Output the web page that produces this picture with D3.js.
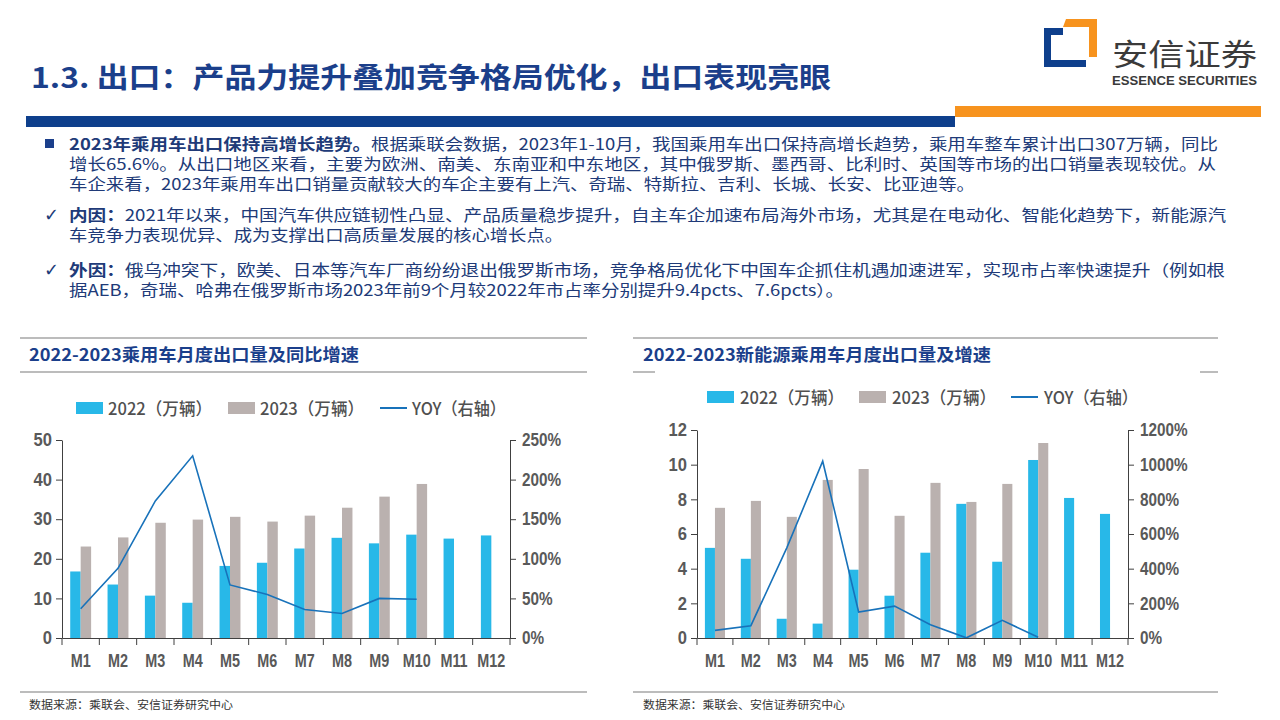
<!DOCTYPE html>
<html><head><meta charset="utf-8">
<script src="https://cdn.jsdelivr.net/npm/d3@7"></script>
<style>
html,body{margin:0;padding:0;background:#fff;}
svg{display:block;}
</style></head>
<body>
<svg id="c" width="1280" height="720"></svg>
<script>
// ---------- data ----------
const months = ["M1","M2","M3","M4","M5","M6","M7","M8","M9","M10","M11","M12"];
const pv2022 = [16.8,13.5,10.7,8.9,18.2,19.0,22.6,25.3,23.9,26.1,25.1,25.9];
const pv2023 = [23.1,25.4,29.1,29.9,30.6,29.4,30.9,32.9,35.7,38.9];
const pvYoy  = [0.37,0.88,1.73,2.30,0.67,0.55,0.36,0.31,0.50,0.49];
const nev2022 = [5.2,4.57,1.11,0.83,3.94,2.44,4.92,7.74,4.40,10.27,8.08,7.16];
const nev2023 = [7.51,7.91,6.99,9.12,9.75,7.05,8.95,7.85,8.89,11.25];
const nevYoy  = [0.44,0.71,5.2,10.2,1.50,1.84,0.77,0.01,1.02,0.04];
const pvLeftTicks = [0,10,20,30,40,50];
const pvRightTicks = [0,0.5,1,1.5,2,2.5];
const nevLeftTicks = [0,2,4,6,8,10,12];
const nevRightTicks = [0,2,4,6,8,10,12];
const legendLabels = ["2022（万辆）","2023（万辆）","YOY（右轴）"];
const chartTitles = ["2022-2023乘用车月度出口量及同比增速","2022-2023新能源乘用车月度出口量及增速"];
const sourceText = "数据来源：乘联会、安信证券研究中心";
const pageTitle = "1.3. 出口：产品力提升叠加竞争格局优化，出口表现亮眼";

const C_BLUE = "#28B8E8", C_GRAY = "#BAB1AF", C_LINE = "#1872BA";
const NAVY = "#1B3F8B", TXT = "#203A78";
const NUMFONT = "'Liberation Sans','Arial',sans-serif";
const CJK = "'Noto Sans CJK SC','Noto Sans',sans-serif";

const svg = d3.select("#c");

// ---------- header ----------
svg.append("text").attr("x",31).attr("y",88).attr("font-family",CJK).attr("font-weight",700)
  .attr("font-size",28).attr("fill",NAVY).attr("textLength",800).attr("lengthAdjust","spacingAndGlyphs").text(pageTitle);
svg.append("rect").attr("x",26).attr("y",116).attr("width",929).attr("height",11).attr("fill","#0E3F8C");
svg.append("rect").attr("x",955).attr("y",106).attr("width",306).attr("height",11).attr("fill","#F7931E");

// logo
const logo = svg.append("g");
logo.append("path").attr("d","M1044,28 L1063,28 L1063,35 L1051,35 L1051,60 L1086,60 L1086,67 L1044,67 Z").attr("fill","#0E3F8C");
logo.append("path").attr("d","M1066,19 L1097,19 L1097,57 L1089,57 L1089,27 L1063,27 Z").attr("fill","#F7931E");
logo.append("text").attr("x",1112).attr("y",65).attr("font-family",CJK).attr("font-size",30).attr("fill","#3a3a3a")
  .attr("textLength",145).attr("lengthAdjust","spacingAndGlyphs").text("安信证券");
logo.append("text").attr("x",1112).attr("y",85).attr("font-family",NUMFONT).attr("font-weight",700).attr("font-size",13).attr("fill","#3a3a3a")
  .attr("textLength",145).attr("lengthAdjust","spacingAndGlyphs").text("ESSENCE SECURITIES");

// ---------- body text ----------
const lines = [
  {y:150, end:1218, marker:"sq", parts:[["2023年乘用车出口保持高增长趋势。",700],["根据乘联会数据，2023年1-10月，我国乘用车出口保持高增长趋势，乘用车整车累计出口307万辆，同比",400]]},
  {y:170, end:1216, parts:[["增长65.6%。从出口地区来看，主要为欧洲、南美、东南亚和中东地区，其中俄罗斯、墨西哥、比利时、英国等市场的出口销量表现较优。从",400]]},
  {y:190, end:975, parts:[["车企来看，2023年乘用车出口销量贡献较大的车企主要有上汽、奇瑞、特斯拉、吉利、长城、长安、比亚迪等。",400]]},
  {y:221, end:1226, marker:"ck", parts:[["内因：",700],["2021年以来，中国汽车供应链韧性凸显、产品质量稳步提升，自主车企加速布局海外市场，尤其是在电动化、智能化趋势下，新能源汽",400]]},
  {y:241, end:563, parts:[["车竞争力表现优异、成为支撑出口高质量发展的核心增长点。",400]]},
  {y:276, end:1225, marker:"ck", parts:[["外因：",700],["俄乌冲突下，欧美、日本等汽车厂商纷纷退出俄罗斯市场，竞争格局优化下中国车企抓住机遇加速进军，实现市占率快速提升（例如根",400]]},
  {y:296, end:844, parts:[["据AEB，奇瑞、哈弗在俄罗斯市场2023年前9个月较2022年市占率分别提升9.4pcts、7.6pcts）。",400]]}
];
lines.forEach(l=>{
  if(l.marker==="sq") svg.append("rect").attr("x",45).attr("y",139).attr("width",9).attr("height",9).attr("fill","#1B3F8B");
  if(l.marker==="ck") svg.append("text").attr("x",44).attr("y",l.y).attr("font-family","'DejaVu Sans',sans-serif").attr("font-weight",700).attr("font-size",18).attr("fill",TXT).text("✓");
  const t = svg.append("text").attr("x",69).attr("y",l.y).attr("font-family",CJK).attr("font-size",15.5).attr("fill",TXT)
    .attr("textLength",l.end-69).attr("lengthAdjust","spacingAndGlyphs");
  l.parts.forEach(p=>t.append("tspan").attr("font-weight",p[1]).text(p[0]));
});

// ---------- charts ----------
function narrow(sel, f){
  sel.each(function(){ const w=this.getComputedTextLength(); d3.select(this).attr("textLength",w*f).attr("lengthAdjust","spacingAndGlyphs"); });
}
function drawChart(cfg){
  const g = svg.append("g");
  g.append("line").attr("x1",cfg.fx0).attr("x2",cfg.fx1).attr("y1",338).attr("y2",338).attr("stroke","#A6A6A6").attr("stroke-width",1.5);
  cfg.subLines.forEach(s=>g.append("line").attr("x1",s[0]).attr("x2",s[1]).attr("y1",372).attr("y2",372).attr("stroke","#A6A6A6").attr("stroke-width",1.5));
  g.append("line").attr("x1",cfg.fx0).attr("x2",cfg.fx1).attr("y1",692).attr("y2",692).attr("stroke","#A6A6A6").attr("stroke-width",1.5);
  g.append("text").attr("x",cfg.tx).attr("y",361).attr("font-family",CJK).attr("font-weight",700).attr("font-size",17)
    .attr("fill",NAVY).attr("textLength",cfg.tw).attr("lengthAdjust","spacingAndGlyphs").text(cfg.title);
  g.append("text").attr("x",cfg.tx).attr("y",709).attr("font-family",CJK).attr("font-size",11)
    .attr("fill","#333").attr("textLength",cfg.sw).attr("lengthAdjust","spacingAndGlyphs").text(sourceText);

  // legend
  const L = cfg.legend, ly = cfg.ly;
  g.append("rect").attr("x",L[0]).attr("y",ly-6).attr("width",27).attr("height",12).attr("fill",C_BLUE);
  g.append("rect").attr("x",L[2]).attr("y",ly-6).attr("width",27).attr("height",12).attr("fill",C_GRAY);
  g.append("line").attr("x1",L[4]).attr("x2",L[4]+27).attr("y1",ly).attr("y2",ly).attr("stroke",C_LINE).attr("stroke-width",2);
  [[L[1],104,0],[L[3],104,1],[L[5],94,2]].forEach(d=>{
    g.append("text").attr("x",d[0]).attr("y",ly+6.5).attr("font-family",CJK).attr("font-weight",500).attr("font-size",17).attr("fill","#505050")
      .attr("textLength",d[1]).attr("lengthAdjust","spacingAndGlyphs").text(legendLabels[d[2]]);
  });

  const x = d3.scaleBand().domain(months).range([cfg.x0,cfg.x1]).padding(0);
  const y = d3.scaleLinear().domain([0,cfg.ymax]).range([638,cfg.ytop]);
  const yr = d3.scaleLinear().domain([0,cfg.yrmax]).range([638,cfg.ytop]);
  const bw = x.bandwidth()*0.28;
  const cx = d => x(d)+x.bandwidth()/2;

  g.append("g").selectAll("rect").data(cfg.a).join("rect")
    .attr("x",(d,i)=>cx(months[i])-bw).attr("width",bw)
    .attr("y",d=>y(d)).attr("height",d=>638-y(d)).attr("fill",C_BLUE);
  g.append("g").selectAll("rect").data(cfg.b).join("rect")
    .attr("x",(d,i)=>cx(months[i])).attr("width",bw)
    .attr("y",d=>y(d)).attr("height",d=>638-y(d)).attr("fill",C_GRAY);

  const line = d3.line().x((d,i)=>cx(months[i])).y(d=>yr(d));
  g.append("path").datum(cfg.yoy).attr("d",line).attr("fill","none").attr("stroke",C_LINE).attr("stroke-width",1.6);

  const axStyle = sel=>{
    sel.selectAll("path,line").attr("stroke","#404040").attr("stroke-width",1);
    sel.selectAll("text").attr("font-family",NUMFONT).attr("font-weight",700).attr("font-size",18).attr("fill","#595959");
  };
  const la = g.append("g").attr("transform",`translate(${cfg.x0},0)`)
    .call(d3.axisLeft(y).tickValues(cfg.lt).tickSize(6).tickSizeOuter(0).tickPadding(4).tickFormat(d3.format("d"))).call(axStyle);
  narrow(la.selectAll("text"),0.92);
  const ra = g.append("g").attr("transform",`translate(${cfg.x1},0)`)
    .call(d3.axisRight(yr).tickValues(cfg.rt).tickSize(6).tickSizeOuter(0).tickPadding(6).tickFormat(d3.format(".0%"))).call(axStyle);
  narrow(ra.selectAll("text"),0.85);
  const bx = g.append("g").attr("transform","translate(0,638)")
    .call(d3.axisBottom(x).tickSize(0).tickPadding(16)).call(axStyle);
  bx.selectAll("text").attr("dy","0.71em");
  narrow(bx.selectAll("text"),0.8);
  const bounds = months.map(m=>x(m)).concat([cfg.x1]);
  g.append("g").selectAll("line").data(bounds).join("line")
    .attr("x1",d=>d).attr("x2",d=>d).attr("y1",638).attr("y2",645).attr("stroke","#404040");
}

drawChart({fx0:20,fx1:587,subLines:[[20,587]],tx:29,tw:330,sw:204,title:chartTitles[0],
  legend:[76,108,228,260,380,412],ly:408,
  x0:62,x1:510,ymax:50,yrmax:2.5,ytop:440,a:pv2022,b:pv2023,yoy:pvYoy,lt:pvLeftTicks,rt:pvRightTicks});
drawChart({fx0:633,fx1:1218,subLines:[[633,655],[1200,1218]],tx:643,tw:348,sw:202,title:chartTitles[1],
  legend:[707,740,859,892,1011,1044],ly:397,
  x0:697,x1:1128,ymax:12,yrmax:12,ytop:430,a:nev2022,b:nev2023,yoy:nevYoy,lt:nevLeftTicks,rt:nevRightTicks});
</script>
</body></html>
